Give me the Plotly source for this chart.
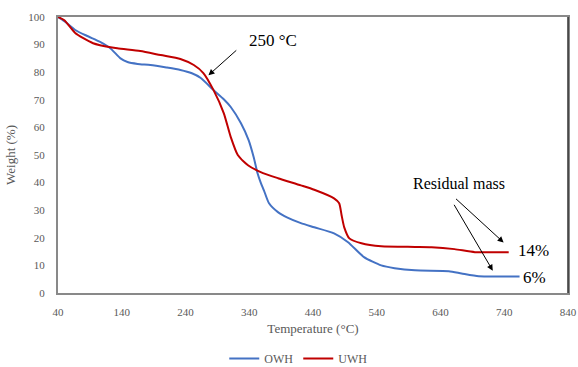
import plotly.graph_objects as go

# ---- data ----
owh_temp = [40, 50, 67, 85, 106, 122, 138, 149, 165, 185, 210, 232, 250, 264, 284, 300, 311, 327,
            339, 347, 353, 358, 363, 371, 385, 400, 421, 442, 473, 495, 520, 547, 568, 600, 653,
            673, 700, 730, 764]
owh_weight = [100, 98.5, 95.3, 93.2, 91, 88.7, 85, 83.7, 83, 82.6, 81.7, 80.8, 79.6, 77.9, 73.5,
              70.2, 67.4, 61.5, 55.4, 49.2, 43.4, 40, 37.2, 32.5, 29.3, 27.3, 25.3, 23.8, 21.6,
              18.4, 13, 10, 9, 8.2, 7.9, 7.1, 6.1, 6.0, 6.0]

uwh_temp = [40, 50, 67, 79, 95, 106, 133, 169, 201, 232, 253, 268, 284, 300, 311, 322, 338, 358,
            385, 421, 442, 473, 481, 485, 489, 497, 516, 547, 600, 626, 662, 694, 747]
uwh_weight = [100, 98.8, 94.2, 92.4, 90.5, 89.8, 88.7, 87.7, 86.2, 84.8, 82.6, 79.7, 73.5, 65.2,
              56.5, 50, 46.3, 43.8, 41.6, 39.0, 37.4, 34.3, 32.5, 28, 23.8, 19.8, 18, 16.9, 16.7,
              16.6, 15.9, 14.8, 14.8]

x_ticks = [40, 140, 240, 340, 440, 540, 640, 740, 840]
y_ticks = [0, 10, 20, 30, 40, 50, 60, 70, 80, 90, 100]

FONT = "Liberation Serif, Times New Roman, serif"
GRAY = "#595959"
AXIS = "#898989"

fig = go.Figure()
fig.add_trace(go.Scatter(x=owh_temp, y=owh_weight, mode="lines", name="OWH",
                         line=dict(color="#4472C4", width=2, shape="spline", smoothing=0.6)))
fig.add_trace(go.Scatter(x=uwh_temp, y=uwh_weight, mode="lines", name="UWH",
                         line=dict(color="#C00000", width=2, shape="spline", smoothing=0.6)))

# annotations
fig.add_annotation(x=276, y=78.9, ax=322, ay=88.4, xref="x", yref="y", axref="x", ayref="y",
                   text="", showarrow=True, arrowhead=2, arrowsize=1.2, arrowwidth=1, arrowcolor="black")
fig.add_annotation(x=337, y=91.5, xref="x", yref="y", text="250 °C", showarrow=False,
                   xanchor="left", font=dict(family=FONT, size=17, color="black"))

fig.add_annotation(x=739, y=18.3, ax=662, ay=34.6, xref="x", yref="y", axref="x", ayref="y",
                   text="", showarrow=True, arrowhead=2, arrowsize=1.2, arrowwidth=1, arrowcolor="black")
fig.add_annotation(x=722, y=8.1, ax=660, ay=32.5, xref="x", yref="y", axref="x", ayref="y",
                   text="", showarrow=True, arrowhead=2, arrowsize=1.2, arrowwidth=1, arrowcolor="black")
fig.add_annotation(x=669, y=39.6, xref="x", yref="y", text="Residual mass", showarrow=False,
                   font=dict(family=FONT, size=16, color="black"))
fig.add_annotation(x=758, y=15.5, xref="x", yref="y", text="14%", showarrow=False,
                   xanchor="left", font=dict(family=FONT, size=17, color="black"))
fig.add_annotation(x=766, y=5.7, xref="x", yref="y", text="6%", showarrow=False,
                   xanchor="left", font=dict(family=FONT, size=17, color="black"))

# right border in dark
fig.add_shape(type="line", xref="paper", yref="paper", x0=1, x1=1, y0=0, y1=1,
              line=dict(color="#333333", width=1.5))

fig.update_layout(
    width=578, height=367,
    margin=dict(l=58, r=10, t=17, b=74, autoexpand=False),
    paper_bgcolor="white", plot_bgcolor="white",
    font=dict(family=FONT, size=11, color=GRAY),
    showlegend=True,
    legend=dict(orientation="h", x=0.326, xanchor="left", y=-0.237, yanchor="middle",
                itemwidth=30, tracegroupgap=0,
                font=dict(family=FONT, size=12, color=GRAY)),
)
fig.update_xaxes(range=[40, 840], tickvals=x_ticks, ticktext=[str(v) for v in x_ticks],
                 automargin=False,
                 showgrid=False, zeroline=False, showline=True, linecolor=AXIS, linewidth=2,
                 mirror=True, ticks="outside", ticklen=8, tickcolor="rgba(0,0,0,0)",
                 tickfont=dict(family=FONT, size=11, color=GRAY),
                 title=dict(text="Temperature (°C)", font=dict(family=FONT, size=13, color=GRAY),
                            standoff=7))
fig.update_yaxes(range=[0, 100], tickvals=y_ticks, ticktext=[str(v) for v in y_ticks],
                 automargin=False,
                 showgrid=False, zeroline=False, showline=True, linecolor=AXIS, linewidth=2,
                 mirror=True, ticks="outside", ticklen=9, tickcolor="rgba(0,0,0,0)",
                 tickfont=dict(family=FONT, size=11, color=GRAY),
                 title=dict(text="Weight (%)", font=dict(family=FONT, size=13, color=GRAY),
                            standoff=10))

# remove the default page margin so the figure fills the 578x367 window exactly
fig.write_html("out.html", config={"displayModeBar": False},
               post_script="document.body.style.margin='0';document.body.style.overflow='hidden';"
                           "document.documentElement.style.overflow='hidden';")
